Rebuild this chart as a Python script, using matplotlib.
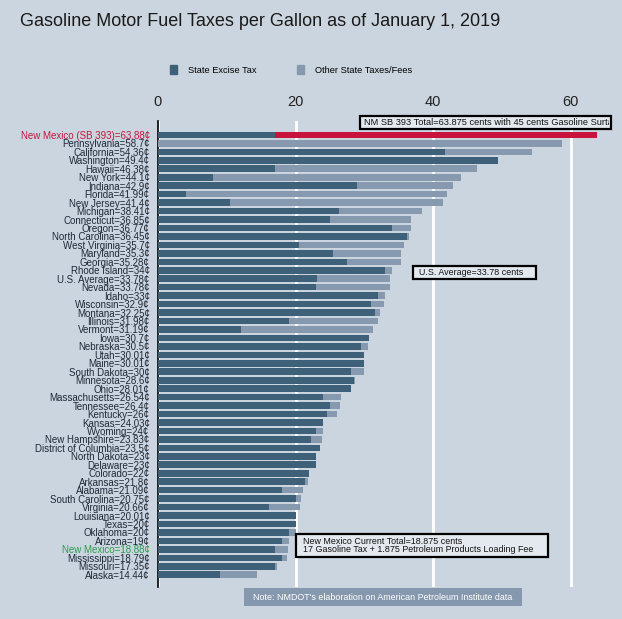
import numpy as np
import matplotlib
matplotlib.use("Agg")
import matplotlib.pyplot as plt
from matplotlib.patches import Rectangle, Patch
from matplotlib.transforms import Bbox, TransformedBbox

states = ["New Mexico (SB 393)", "Pennsylvania", "California", "Washington", "Hawaii",
          "New York", "Indiana", "Florida", "New Jersey", "Michigan", "Connecticut",
          "Oregon", "North Carolina", "West Virginia", "Maryland", "Georgia",
          "Rhode Island", "U.S. Average", "Nevada", "Idaho", "Wisconsin", "Montana",
          "Illinois", "Vermont", "Iowa", "Nebraska", "Utah", "Maine", "South Dakota",
          "Minnesota", "Ohio", "Massachusetts", "Tennessee", "Kentucky", "Kansas",
          "Wyoming", "New Hampshire", "District of Columbia", "North Dakota",
          "Delaware", "Colorado", "Arkansas", "Alabama", "South Carolina", "Virginia",
          "Louisiana", "Texas", "Oklahoma", "Arizona", "New Mexico", "Mississippi",
          "Missouri", "Alaska"]
totals = [63.88, 58.7, 54.36, 49.4, 46.38, 44.1, 42.9, 41.99, 41.4, 38.41, 36.85,
          36.77, 36.45, 35.7, 35.3, 35.28, 34, 33.78, 33.78, 33, 32.9, 32.25,
          31.98, 31.19, 30.7, 30.5, 30.01, 30.01, 30, 28.6, 28.01, 26.54, 26.4,
          26, 24.03, 24, 23.83, 23.5, 23, 23, 22, 21.8, 21.09, 20.75, 20.66,
          20.01, 20, 20, 19, 18.88, 18.79, 17.35, 14.44]
excise = [17, 0, 41.7, 49.4, 17, 8.05, 29, 4, 10.5, 26.3, 25,
          34, 36.2, 20.5, 25.5, 27.5, 33, 23.1, 23, 32, 30.9, 31.5,
          19, 12.1, 30.7, 29.5, 30.01, 30.01, 28, 28.5, 28.01, 24, 25,
          24.5, 24.03, 23, 22.2, 23.5, 23, 23, 22, 21.4, 18, 20, 16.2,
          20.01, 20, 19, 18, 17, 18, 17, 8.95]

dark = "#3f6079"
light = "#8799ae"
red = "#c8143c"
bg = "#cbd5df"
txt = "#1f2838"

fig = plt.figure(figsize=(6.22, 6.19), dpi=100, facecolor=bg)
plt.rcParams["font.family"] = ["Liberation Sans", "DejaVu Sans"]

def px(x, y):
    return x / 622, 1 - y / 619

ax = fig.add_axes([158 / 622, 1 - 587 / 619, 454 / 622, 466 / 619], facecolor=bg)

n = len(states)
ypos = np.arange(n)
exc = np.array(excise)
other = np.array(totals) - exc
other_colors = [red] + [light] * (n - 1)

ax.barh(ypos, exc, height=0.78, color=dark, zorder=3)
ax.barh(ypos, other, left=exc, height=0.78, color=other_colors, zorder=3)

ax.set_xlim(0, 66.0)
ax.set_ylim(n - 1 + 1.45, -1.65)
ax.set_xticks([0, 20, 40, 60])
ax.xaxis.tick_top()
ax.tick_params(axis="x", length=0, pad=9, labelsize=10.5, labelcolor="#222222")
ax.grid(axis="x", color="white", lw=2, zorder=1)
ax.grid(axis="y", visible=False)

labels = [f"{s}={v:g}¢" for s, v in zip(states, totals)]
ax.set_yticks(ypos)
ax.set_yticklabels(labels, fontsize=7.0, color=txt)
ax.tick_params(axis="y", length=0, pad=6)
for lab in ax.get_yticklabels():
    if lab.get_text().startswith("New Mexico (SB"):
        lab.set_color(red)
    elif lab.get_text().startswith("New Mexico="):
        lab.set_color("#2f9a4c")

for side in ["top", "right", "bottom"]:
    ax.spines[side].set_visible(False)
ax.spines["left"].set_color("black")
ax.spines["left"].set_linewidth(1.2)

fig.text(*px(20, 22), "Gasoline Motor Fuel Taxes per Gallon as of January 1, 2019",
         fontsize=13.0, color="#1a1a1a", va="center", ha="left")

handles = [Patch(color=dark, label="State Excise Tax"),
           Patch(color=light, label="Other State Taxes/Fees")]
fig.legend(handles=handles, loc="center", bbox_to_anchor=px(291, 70), ncol=2,
           frameon=False, fontsize=6.7, handlelength=0.8, handleheight=1.0,
           handletextpad=1.2, columnspacing=4.3)

def box(x0, y0, x1, y1, fc, lw=1.6, ec="black"):
    (fx0, fy1), (fx1, fy0) = px(x0, y0), px(x1, y1)
    r = Rectangle((fx0, fy0), fx1 - fx0, fy1 - fy0, transform=fig.transFigure,
                  facecolor=fc, edgecolor=ec, lw=lw, zorder=5)
    fig.patches.append(r)

box(360, 116, 611, 129, "#e4e9ef")
t = fig.text(*px(364, 122.5), "NM SB 393 Total=63.875 cents with 45 cents Gasoline Surtax",
             fontsize=6.65, color="#111111", va="center", ha="left", zorder=6)
t.set_clip_box(TransformedBbox(Bbox([px(360, 129), px(609, 116)]), fig.transFigure))
t.set_clip_on(True)

box(413, 266, 536, 279, "#e4e9ef")
fig.text(*px(419, 272.5), "U.S. Average=33.78 cents", fontsize=6.4, color="#111111",
         va="center", ha="left", zorder=6)

box(296, 534, 548, 557, "#e4e9ef")
fig.text(*px(303, 541), "New Mexico Current Total=18.875 cents", fontsize=6.4,
         color="#111111", va="center", ha="left", zorder=6)
fig.text(*px(303, 550), "17 Gasoline Tax + 1.875 Petroleum Products Loading Fee",
         fontsize=6.4, color="#111111", va="center", ha="left", zorder=6)

box(244, 588, 522, 606, "#8598ae", lw=0, ec="none")
fig.text(*px(253, 597), "Note: NMDOT's elaboration on American Petroleum Institute data",
         fontsize=6.4, color="white", va="center", ha="left", zorder=6)

fig.savefig("out.png", dpi=100, facecolor=bg)
